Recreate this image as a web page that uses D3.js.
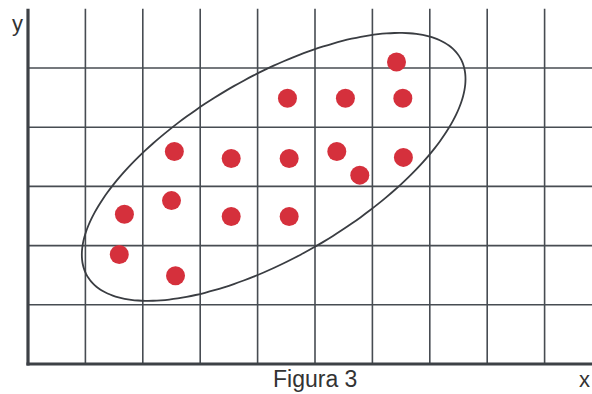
<!DOCTYPE html>
<html>
<head>
<meta charset="utf-8">
<script src="https://cdn.jsdelivr.net/npm/d3@7"></script>
<style>
  body { margin: 0; background: #fff; }
  svg { display: block; }
</style>
</head>
<body>
<svg id="chart" width="592" height="394"></svg>
<script>
// points (grid units)
const xs = [6.42, 4.52, 5.53, 6.53, 2.55, 3.54, 4.55, 5.38, 6.54, 5.78, 1.68, 2.50, 3.54, 4.55, 1.59, 2.57];
const ys = [5.10, 4.49, 4.49, 4.49, 3.59, 3.47, 3.47, 3.59, 3.49, 3.19, 2.53, 2.76, 2.49, 2.49, 1.85, 1.49];

const xTicks = [1, 2, 3, 4, 5, 6, 7, 8, 9];
const yTicks = [1, 2, 3, 4, 5];

// ellipse around the cloud: centre + shape matrix (grid units)
const ellCenter = [4.28, 3.33];
const ellShape = [[3.342, 0], [1.483, 1.709]];

const config = {
  'grid': '#474c52',
  'axis': '#3d4146',
  'dot': '#d5303c',
  'radius': 9.5,
  'font': '"Liberation Sans", Arial, sans-serif'
};

const svg = d3.select('#chart');

const x = d3.scaleLinear().domain([0, 10]).range([28, 602]);
const y = d3.scaleLinear().domain([0, 6]).range([364, 8.8]);

const grid = svg.append('g').attr('class', 'grid');

grid.selectAll('line.v')
  .data(xTicks)
  .enter()
  .append('line')
  .attr('class', 'v')
  .attr('x1', d => x(d))
  .attr('x2', d => x(d))
  .attr('y1', y(0))
  .attr('y2', y(6))
  .style('stroke', config['grid'])
  .style('stroke-width', 1.6);

grid.selectAll('line.h')
  .data(yTicks)
  .enter()
  .append('line')
  .attr('class', 'h')
  .attr('x1', x(0))
  .attr('x2', x(10))
  .attr('y1', d => y(d))
  .attr('y2', d => y(d))
  .style('stroke', config['grid'])
  .style('stroke-width', 1.6);

// axes
svg.append('line')
  .attr('x1', x(0)).attr('x2', x(0))
  .attr('y1', y(0) + 1.5).attr('y2', y(6))
  .style('stroke', config['axis'])
  .style('stroke-width', 3.2);

svg.append('line')
  .attr('x1', x(0) - 1.5).attr('x2', x(10))
  .attr('y1', y(0)).attr('y2', y(0))
  .style('stroke', config['axis'])
  .style('stroke-width', 3.2);

// ellipse
const ellPts = d3.range(0, 361, 3).map(deg => {
  const t = deg * Math.PI / 180;
  const c = Math.cos(t);
  const s = Math.sin(t);
  return [
    ellCenter[0] + ellShape[0][0] * c + ellShape[0][1] * s,
    ellCenter[1] + ellShape[1][0] * c + ellShape[1][1] * s
  ];
});

const line = d3.line()
  .x(d => x(d[0]))
  .y(d => y(d[1]))
  .curve(d3.curveCardinalClosed);

svg.append('path')
  .attr('d', line(ellPts.slice(0, -1)))
  .style('fill', 'none')
  .style('stroke', '#3a3d42')
  .style('stroke-width', 1.8);

// dots
svg.append('g')
  .selectAll('circle')
  .data(xs.map((v, i) => [v, ys[i]]))
  .enter()
  .append('circle')
  .attr('cx', d => x(d[0]))
  .attr('cy', d => y(d[1]))
  .attr('r', config['radius'])
  .attr('fill', config['dot']);

// labels
svg.append('text')
  .attr('x', 12)
  .attr('y', 31)
  .style('font-family', config['font'])
  .style('font-size', '22px')
  .style('fill', '#333')
  .text('y');

svg.append('text')
  .attr('x', 579)
  .attr('y', 387)
  .style('font-family', config['font'])
  .style('font-size', '22px')
  .style('fill', '#333')
  .text('x');

svg.append('text')
  .attr('x', 273)
  .attr('y', 387)
  .style('font-family', config['font'])
  .style('font-size', '23px')
  .style('fill', '#333')
  .text('Figura 3');
</script>
</body>
</html>
